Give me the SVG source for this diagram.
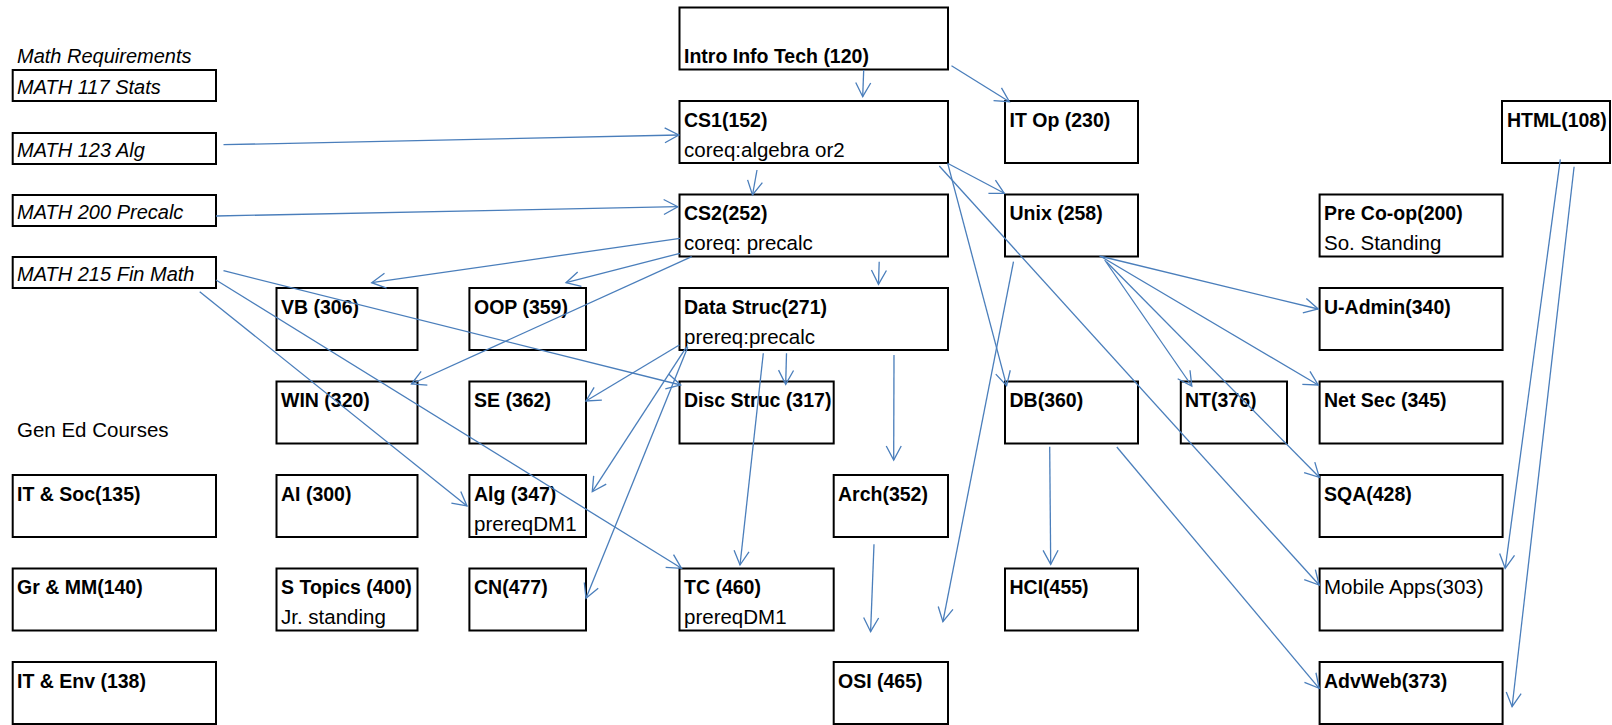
<svg xmlns="http://www.w3.org/2000/svg" width="1612" height="725" viewBox="0 0 1612 725">
<style>
.bx{fill:#fff;stroke:#000;stroke-width:2}
.b{font-family:"Liberation Sans",Arial,sans-serif;font-weight:bold;font-size:19.5px;fill:#000}
.r{font-family:"Liberation Sans",Arial,sans-serif;font-size:20.5px;fill:#000}
.i{font-family:"Liberation Sans",Arial,sans-serif;font-style:italic;font-size:20px;fill:#000}
.c line{stroke:#4A7EBB;stroke-width:1.3;fill:none;marker-end:url(#ah)}
</style>
<defs>
<marker id="ah" markerUnits="userSpaceOnUse" viewBox="-16 -9 18 18" refX="0" refY="0" markerWidth="18" markerHeight="18" orient="auto">
<path d="M-14,-7.5 L0,0 L-14,7.5" fill="none" stroke="#4A7EBB" stroke-width="1.3"/>
</marker>
</defs>
<rect width="1612" height="725" fill="#fff"/>

<text class="i" x="17" y="62.5">Math Requirements</text>
<text class="r" x="17" y="436.5">Gen Ed Courses</text>

<g id="math117"><rect class="bx" x="12.7" y="70" width="203.3" height="31"/><text class="i" x="17" y="94">MATH 117 Stats</text></g>
<g id="math123"><rect class="bx" x="12.7" y="133" width="203.3" height="31"/><text class="i" x="17" y="157">MATH 123 Alg</text></g>
<g id="math200"><rect class="bx" x="12.7" y="195" width="203.3" height="31"/><text class="i" x="17" y="219">MATH 200 Precalc</text></g>
<g id="math215"><rect class="bx" x="12.7" y="257" width="203.3" height="31"/><text class="i" x="17" y="281">MATH 215 Fin Math</text></g>

<g id="itsoc"><rect class="bx" x="12.7" y="475" width="203.3" height="62"/><text class="b" x="17" y="500.5">IT &amp; Soc(135)</text></g>
<g id="grmm"><rect class="bx" x="12.7" y="568.5" width="203.3" height="62"/><text class="b" x="17" y="594">Gr &amp; MM(140)</text></g>
<g id="itenv"><rect class="bx" x="12.7" y="662" width="203.3" height="62"/><text class="b" x="17" y="687.5">IT &amp; Env (138)</text></g>

<g id="vb"><rect class="bx" x="276.5" y="288" width="141" height="62"/><text class="b" x="281" y="313.5">VB (306)</text></g>
<g id="win"><rect class="bx" x="276.5" y="381.5" width="141" height="62"/><text class="b" x="281" y="407">WIN (320)</text></g>
<g id="ai"><rect class="bx" x="276.5" y="475" width="141" height="62"/><text class="b" x="281" y="500.5">AI (300)</text></g>
<g id="stopics"><rect class="bx" x="276.5" y="568.5" width="141" height="62"/><text class="b" x="281" y="594">S Topics (400)</text><text class="r" x="281" y="624">Jr. standing</text></g>

<g id="oop"><rect class="bx" x="469.4" y="288" width="116.6" height="62"/><text class="b" x="474" y="313.5">OOP (359)</text></g>
<g id="se"><rect class="bx" x="469.4" y="381.5" width="116.6" height="62"/><text class="b" x="474" y="407">SE (362)</text></g>
<g id="alg"><rect class="bx" x="469.4" y="475" width="116.6" height="62"/><text class="b" x="474" y="500.5">Alg (347)</text><text class="r" x="474" y="530.5">prereqDM1</text></g>
<g id="cn"><rect class="bx" x="469.4" y="568.5" width="116.6" height="62"/><text class="b" x="474" y="594">CN(477)</text></g>

<g id="intro"><rect class="bx" x="679.5" y="7.5" width="268.5" height="62"/><text class="b" x="684" y="63">Intro Info Tech (120)</text></g>
<g id="cs1"><rect class="bx" x="679.5" y="101" width="268.5" height="62"/><text class="b" x="684" y="126.5">CS1(152)</text><text class="r" x="684" y="156.5">coreq:algebra or2</text></g>
<g id="cs2"><rect class="bx" x="679.5" y="194.5" width="268.5" height="62"/><text class="b" x="684" y="220">CS2(252)</text><text class="r" x="684" y="250">coreq: precalc</text></g>
<g id="datastruc"><rect class="bx" x="679.5" y="288" width="268.5" height="62"/><text class="b" x="684" y="313.5">Data Struc(271)</text><text class="r" x="684" y="343.5">prereq:precalc</text></g>
<g id="discstruc"><rect class="bx" x="679.5" y="381.5" width="154.2" height="62"/><text class="b" x="684" y="407">Disc Struc (317)</text></g>
<g id="tc"><rect class="bx" x="679.5" y="568.5" width="154.2" height="62"/><text class="b" x="684" y="594">TC (460)</text><text class="r" x="684" y="624">prereqDM1</text></g>
<g id="arch"><rect class="bx" x="833.7" y="475" width="114.3" height="62"/><text class="b" x="838" y="500.5">Arch(352)</text></g>
<g id="osi"><rect class="bx" x="833.7" y="662" width="114.3" height="62"/><text class="b" x="838" y="687.5">OSI (465)</text></g>

<g id="itop"><rect class="bx" x="1005" y="101" width="133" height="62"/><text class="b" x="1009.5" y="126.5">IT Op (230)</text></g>
<g id="unix"><rect class="bx" x="1005" y="194.5" width="133" height="62"/><text class="b" x="1009.5" y="220">Unix (258)</text></g>
<g id="db"><rect class="bx" x="1005" y="381.5" width="133" height="62"/><text class="b" x="1009.5" y="407">DB(360)</text></g>
<g id="hci"><rect class="bx" x="1005" y="568.5" width="133" height="62"/><text class="b" x="1009.5" y="594">HCI(455)</text></g>

<g id="nt"><rect class="bx" x="1180.8" y="381.5" width="106.2" height="62"/><text class="b" x="1185" y="407">NT(376)</text></g>

<g id="precoop"><rect class="bx" x="1319.6" y="194.5" width="183" height="62"/><text class="b" x="1324" y="220">Pre Co-op(200)</text><text class="r" x="1324" y="250">So. Standing</text></g>
<g id="uadmin"><rect class="bx" x="1319.6" y="288" width="183" height="62"/><text class="b" x="1324" y="313.5">U-Admin(340)</text></g>
<g id="netsec"><rect class="bx" x="1319.6" y="381.5" width="183" height="62"/><text class="b" x="1324" y="407">Net Sec (345)</text></g>
<g id="sqa"><rect class="bx" x="1319.6" y="475" width="183" height="62"/><text class="b" x="1324" y="500.5">SQA(428)</text></g>
<g id="mobile"><rect class="bx" x="1319.6" y="568.5" width="183" height="62"/><text class="r" x="1324" y="594">Mobile Apps(303)</text></g>
<g id="advweb"><rect class="bx" x="1319.6" y="662" width="183" height="62"/><text class="b" x="1324" y="687.5">AdvWeb(373)</text></g>

<g id="html"><rect class="bx" x="1502" y="101" width="108" height="62"/><text class="b" x="1507" y="126.5">HTML(108)</text></g>

<g id="connectors" class="c">
<line x1="863.7" y1="70" x2="862.7" y2="96.7"/>
<line x1="951.5" y1="65.7" x2="1009.4" y2="101.7"/>
<line x1="223.5" y1="144.7" x2="678.8" y2="135"/>
<line x1="216" y1="216" x2="677.8" y2="206.7"/>
<line x1="757" y1="170" x2="752.5" y2="195"/>
<line x1="948" y1="163.5" x2="1004.3" y2="193.3"/>
<line x1="947.7" y1="163.3" x2="1006.6" y2="385.7"/>
<line x1="939.3" y1="166" x2="1319.2" y2="585"/>
<line x1="680" y1="238.3" x2="371.7" y2="282.7"/>
<line x1="680" y1="253.3" x2="566" y2="282.7"/>
<line x1="691.7" y1="256.7" x2="411.5" y2="384"/>
<line x1="879.2" y1="261.7" x2="878.5" y2="284.3"/>
<line x1="223.5" y1="270.7" x2="680.7" y2="385"/>
<line x1="216" y1="280" x2="681.5" y2="568.3"/>
<line x1="199.7" y1="291.7" x2="467" y2="506"/>
<line x1="679.3" y1="345" x2="586" y2="401"/>
<line x1="686.7" y1="346.7" x2="592.3" y2="491.7"/>
<line x1="687.7" y1="347.3" x2="586" y2="598.3"/>
<line x1="763.3" y1="353.3" x2="740" y2="565"/>
<line x1="786.5" y1="353.3" x2="785.7" y2="384.3"/>
<line x1="894" y1="355" x2="893.7" y2="460"/>
<line x1="874" y1="544.3" x2="870.6" y2="631.7"/>
<line x1="1013.5" y1="261.7" x2="942.9" y2="621.7"/>
<line x1="1099.5" y1="256" x2="1318.2" y2="309"/>
<line x1="1101.3" y1="256.7" x2="1318.2" y2="385"/>
<line x1="1104.7" y1="260" x2="1191.8" y2="386"/>
<line x1="1106.4" y1="261.7" x2="1319.3" y2="477.3"/>
<line x1="1049.7" y1="446.7" x2="1050.7" y2="564.3"/>
<line x1="1116.8" y1="447" x2="1319.2" y2="688.3"/>
<line x1="1560.3" y1="159.3" x2="1505.2" y2="568.3"/>
<line x1="1574.1" y1="166.7" x2="1512.1" y2="706.7"/>
</g>
</svg>
